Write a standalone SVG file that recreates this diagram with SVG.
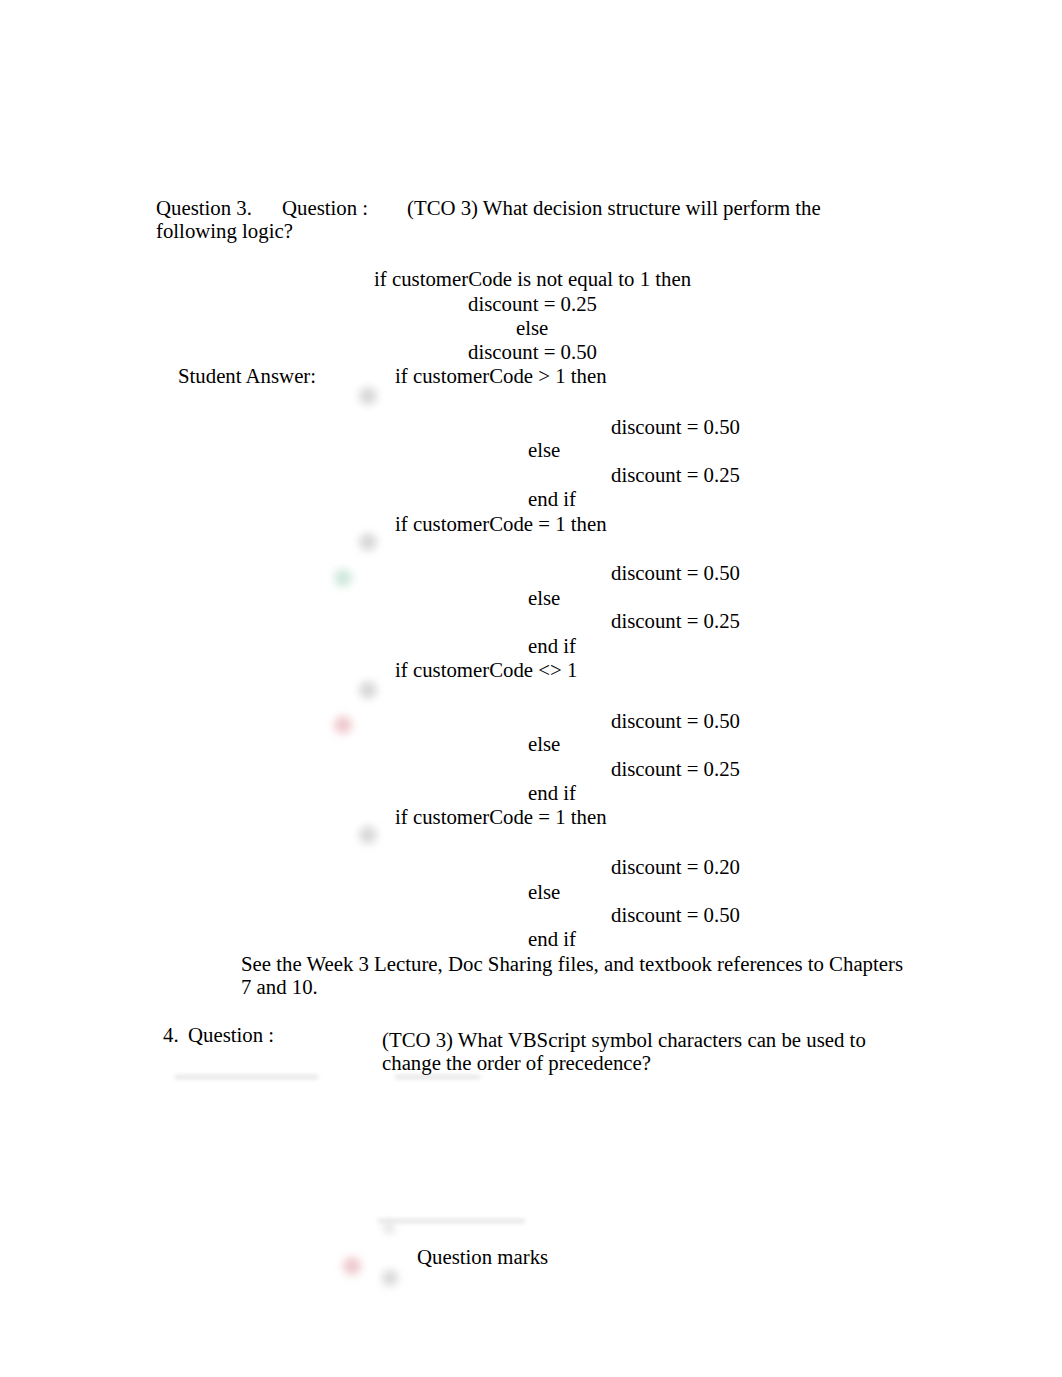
<svg xmlns="http://www.w3.org/2000/svg" width="1062" height="1377" viewBox="0 0 1062 1377">
<defs>
<filter id="blur" x="-100%" y="-100%" width="300%" height="300%"><feGaussianBlur stdDeviation="4"/></filter>
<filter id="blur2" x="-20%" y="-200%" width="140%" height="500%"><feGaussianBlur stdDeviation="2"/></filter>
</defs>
<style>
text{font-family:"Liberation Serif","Times New Roman",serif;font-size:20.8px;fill:#000}
.g{fill:#d8d8d8;filter:url(#blur)}
.gr{fill:#cfe8dc;filter:url(#blur)}
.rd{fill:#efc8cc;filter:url(#blur)}
.ln{fill:#e4e4e4;filter:url(#blur2)}
</style>
<rect width="1062" height="1377" fill="#fff"/>
<g id="marks">
<circle class="g" cx="368" cy="396" r="9"/>
<circle class="g" cx="368" cy="542" r="9"/>
<circle class="gr" cx="343" cy="578" r="9"/>
<circle class="g" cx="368" cy="690" r="9"/>
<circle class="rd" cx="343" cy="725" r="9"/>
<circle class="g" cx="368" cy="835" r="9"/>
<circle class="rd" cx="352" cy="1266" r="9"/>
<circle class="g" cx="390" cy="1278" r="8"/>
<circle class="g" cx="389" cy="1228" r="5"/>
<rect class="ln" x="175" y="1075" width="143" height="4"/>
<rect class="ln" x="395" y="1075" width="85" height="4"/>
<rect class="ln" x="378" y="1219" width="147" height="4"/>
</g>
<g id="q3">
<text x="156" y="215">Question 3.</text>
<text x="282" y="215">Question :</text>
<text x="407" y="215">(TCO 3) What decision structure will perform the</text>
<text x="156" y="238">following logic?</text>
<text x="374" y="286">if customerCode is not equal to 1 then</text>
<text x="468" y="311">discount = 0.25</text>
<text x="516" y="335">else</text>
<text x="468" y="359">discount = 0.50</text>
<text x="178" y="383">Student Answer:</text>
</g>
<g id="opt1">
<text x="395" y="383">if customerCode &gt; 1 then</text>
<text x="611" y="434">discount = 0.50</text>
<text x="528" y="457">else</text>
<text x="611" y="482">discount = 0.25</text>
<text x="528" y="506">end if</text>
</g>
<g id="opt2">
<text x="395" y="531">if customerCode = 1 then</text>
<text x="611" y="580">discount = 0.50</text>
<text x="528" y="605">else</text>
<text x="611" y="628">discount = 0.25</text>
<text x="528" y="653">end if</text>
</g>
<g id="opt3">
<text x="395" y="677">if customerCode &lt;&gt; 1</text>
<text x="611" y="728">discount = 0.50</text>
<text x="528" y="751">else</text>
<text x="611" y="776">discount = 0.25</text>
<text x="528" y="800">end if</text>
</g>
<g id="opt4">
<text x="395" y="824">if customerCode = 1 then</text>
<text x="611" y="874">discount = 0.20</text>
<text x="528" y="899">else</text>
<text x="611" y="922">discount = 0.50</text>
<text x="528" y="946">end if</text>
</g>
<g id="ref">
<text x="241" y="971">See the Week 3 Lecture, Doc Sharing files, and textbook references to Chapters</text>
<text x="241" y="994">7 and 10.</text>
</g>
<g id="q4">
<text x="163" y="1042">4.</text>
<text x="188" y="1042">Question :</text>
<text x="382" y="1047">(TCO 3) What VBScript symbol characters can be used to</text>
<text x="382" y="1070">change the order of precedence?</text>
<text x="417" y="1264">Question marks</text>
</g>
</svg>
